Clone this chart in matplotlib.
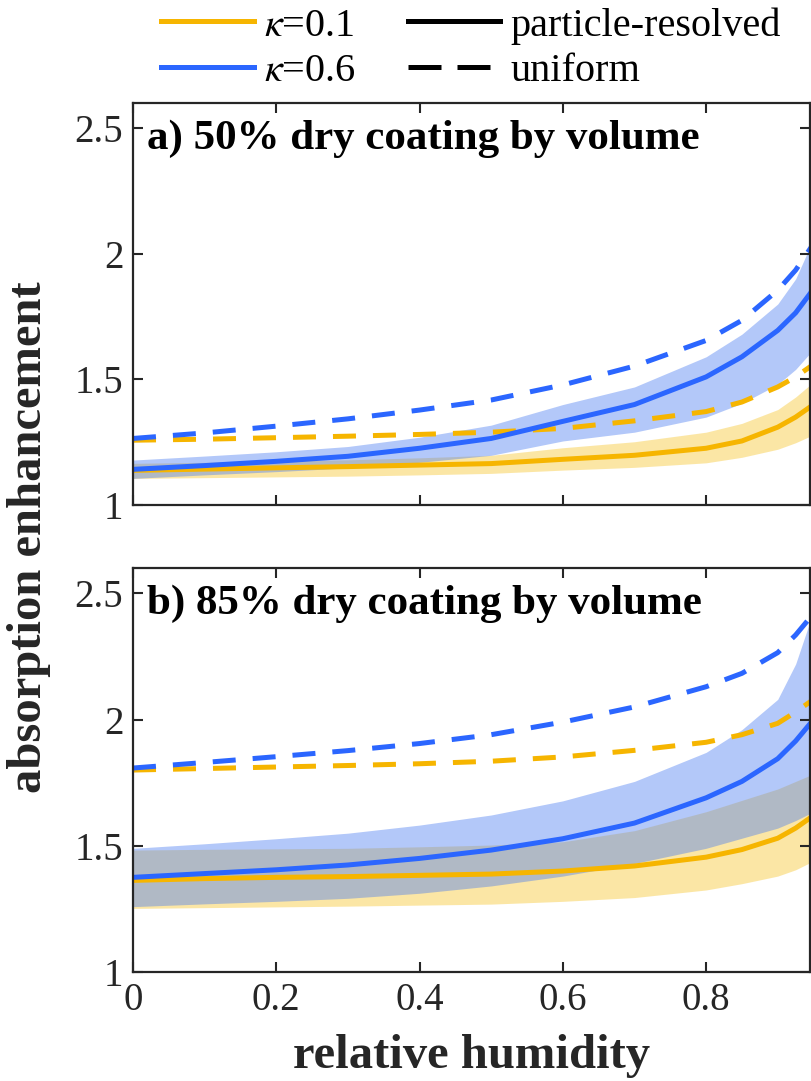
import numpy as np
import matplotlib
matplotlib.use('Agg')
import matplotlib.pyplot as plt
from matplotlib.lines import Line2D

# relative humidity grid
rh = [0, 0.1, 0.2, 0.3, 0.4, 0.5, 0.6, 0.7, 0.8, 0.85, 0.9, 0.925, 0.95]

# a) 50% dry coating
u06a = [1.265, 1.287, 1.314, 1.343, 1.378, 1.418, 1.478, 1.553, 1.655, 1.735, 1.855, 1.935, 2.04]
u01a = [1.258, 1.262, 1.268, 1.274, 1.281, 1.29, 1.305, 1.335, 1.372, 1.41, 1.47, 1.51, 1.56]
p06a = [1.142, 1.157, 1.174, 1.194, 1.226, 1.265, 1.333, 1.40, 1.51, 1.59, 1.695, 1.765, 1.86]
hi06a = [1.179, 1.195, 1.212, 1.233, 1.27, 1.318, 1.40, 1.47, 1.59, 1.68, 1.80, 1.90, 2.06]
lo06a = [1.106, 1.12, 1.133, 1.148, 1.17, 1.198, 1.255, 1.29, 1.35, 1.405, 1.48, 1.54, 1.62]
p01a = [1.138, 1.143, 1.148, 1.153, 1.159, 1.165, 1.182, 1.198, 1.226, 1.255, 1.31, 1.35, 1.40]
hi01a = [1.166, 1.17, 1.175, 1.18, 1.188, 1.198, 1.228, 1.252, 1.29, 1.325, 1.38, 1.43, 1.49]
lo01a = [1.106, 1.109, 1.112, 1.115, 1.12, 1.126, 1.139, 1.15, 1.168, 1.19, 1.222, 1.248, 1.28]

# b) 85% dry coating
u06b = [1.808, 1.83, 1.853, 1.877, 1.905, 1.94, 1.99, 2.05, 2.13, 2.183, 2.265, 2.335, 2.42]
u01b = [1.80, 1.806, 1.812, 1.818, 1.825, 1.835, 1.852, 1.878, 1.91, 1.94, 1.985, 2.03, 2.08]
p06b = [1.375, 1.39, 1.405, 1.424, 1.45, 1.483, 1.528, 1.59, 1.69, 1.755, 1.845, 1.915, 2.0]
hi06b = [1.49, 1.508, 1.528, 1.55, 1.582, 1.622, 1.678, 1.755, 1.87, 1.96, 2.08, 2.22, 2.43]
lo06b = [1.259, 1.27, 1.28, 1.292, 1.312, 1.341, 1.38, 1.43, 1.49, 1.53, 1.57, 1.60, 1.635]
p01b = [1.363, 1.37, 1.375, 1.378, 1.383, 1.388, 1.40, 1.42, 1.455, 1.485, 1.53, 1.57, 1.62]
hi01b = [1.483, 1.486, 1.488, 1.49, 1.496, 1.503, 1.516, 1.56, 1.635, 1.68, 1.725, 1.755, 1.785]
lo01b = [1.252, 1.255, 1.258, 1.261, 1.265, 1.269, 1.28, 1.295, 1.325, 1.35, 1.38, 1.405, 1.44]

xticks = [0, 0.2, 0.4, 0.6, 0.8]
xticklabels = ['0', '0.2', '0.4', '0.6', '0.8']
yticks = [1, 1.5, 2, 2.5]
yticklabels = ['1', '1.5', '2', '2.5']

yellow = '#f6b500'
blue = '#2b66ff'
fill_yellow = '#f7c52a'
fill_blue = '#4a7cf2'
dk = '#262626'

plt.rcParams['font.family'] = 'Liberation Serif'
plt.rcParams['mathtext.fontset'] = 'stix'

fig = plt.figure(figsize=(8.12, 10.81), dpi=100)
ax1 = fig.add_axes([0.1638, 0.5328, 0.8337, 0.3719])
ax2 = fig.add_axes([0.1638, 0.1008, 0.8337, 0.3737])

panels = [
    (ax1, u06a, u01a, p06a, hi06a, lo06a, p01a, hi01a, lo01a, 'a) 50% dry coating by volume'),
    (ax2, u06b, u01b, p06b, hi06b, lo06b, p01b, hi01b, lo01b, 'b) 85% dry coating by volume'),
]

lw = 3.6
dash = (4.6, 3.4)
for ax, u06, u01, p06, hi06, lo06, p01, hi01, lo01, title in panels:
    ax.fill_between(rh, lo01, hi01, color=fill_yellow, alpha=0.42, lw=0)
    ax.fill_between(rh, lo06, hi06, color=fill_blue, alpha=0.42, lw=0)
    ax.plot(rh, u01, color=yellow, lw=lw, ls=(0, dash), dash_capstyle='butt')
    ax.plot(rh, p01, color=yellow, lw=lw)
    ax.plot(rh, u06, color=blue, lw=lw, ls=(0, dash), dash_capstyle='butt')
    ax.plot(rh, p06, color=blue, lw=lw)
    ax.set_xlim(0, 0.945)
    ax.set_ylim(1, 2.6)
    ax.set_xticks(xticks)
    ax.set_yticks(yticks)
    ax.set_yticklabels(yticklabels)
    ax.tick_params(direction='in', length=7, width=1.5, top=True, right=True,
                   labelsize=28, colors=dk, pad=7)
    for s in ax.spines.values():
        s.set_linewidth(1.6)
        s.set_color(dk)
    ax.text(0.02, 0.912, title, transform=ax.transAxes, fontsize=31,
            fontweight='bold', va='center', ha='left', color='black')

ax1.set_xticklabels([])
ax2.set_xticklabels(xticklabels)

fig.text(0.5807, 0.023, 'relative humidity', ha='center', va='center',
         fontsize=35, fontweight='bold', color=dk)
fig.text(0.036, 0.5028, 'absorption enhancement', ha='center', va='center',
         rotation=90, fontsize=35, fontweight='bold', color=dk)

handles = [
    Line2D([], [], color=yellow, lw=lw),
    Line2D([], [], color=blue, lw=lw),
    Line2D([], [], color='black', lw=lw),
    Line2D([], [], color='black', lw=lw, ls=(0, (6.6, 3.2)), dash_capstyle='butt'),
]
labels = [r'$\kappa$=0.1', r'$\kappa$=0.6', 'particle-resolved', 'uniform']
fig.legend(handles, labels, ncol=2, frameon=False, loc='upper center',
           bbox_to_anchor=(0.58, 1.027), fontsize=29, handlelength=2.3,
           handletextpad=0.25, columnspacing=1.3, labelspacing=0.2)

fig.savefig('out.png', dpi=100)
